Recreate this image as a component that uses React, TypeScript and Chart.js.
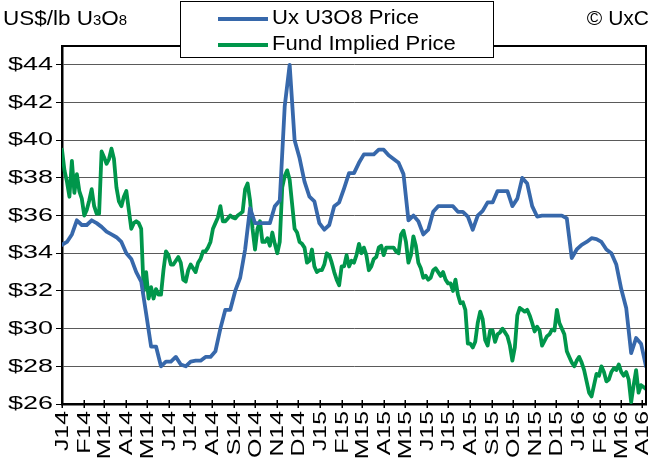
import React, { useEffect, useRef } from 'react';
import { Chart, registerables } from 'chart.js';

Chart.register(...registerables);

// Month tick labels (Jan 2014 .. Apr 2016) and their day offsets from 1 Jan 2014
const monthLabels = ['J14','F14','M14','A14','M14','J14','J14','A14','S14','O14','N14','D14','J15','F15','M15','A15','M15','J15','J15','A15','S15','O15','N15','D15','J16','F16','M16','A16'];
const monthStartDays = [0,31,59,90,120,151,181,212,243,273,304,334,365,396,424,455,485,516,546,577,608,638,669,699,730,761,790,821];

// Ux U3O8 weekly spot price (US$/lb), one value per week from early Jan 2014
const uxStepDays = 7;
const uxPrice = [
  34.45,34.6,35.0,35.75,35.5,35.5,35.75,35.6,35.4,35.15,
  35.0,34.85,34.6,34.0,33.7,33.0,32.5,30.8,29.05,29.05,
  28.0,28.25,28.25,28.5,28.1,28.0,28.25,28.3,28.3,28.5,
  28.5,28.8,30.0,31.0,31.0,32.0,32.7,34.2,36.4,35.6,
  35.6,35.6,35.6,36.5,36.8,41.8,44.0,40.0,39.05,37.8,
  37.0,36.75,35.6,35.25,35.5,36.5,36.7,37.45,38.25,38.25,
  38.8,39.25,39.25,39.25,39.5,39.5,39.2,39.0,38.8,38.2,
  35.75,36.0,35.7,35.0,35.25,36.2,36.5,36.5,36.5,36.5,
  36.2,36.2,35.95,35.25,36.0,36.25,36.7,36.7,37.3,37.3,
  37.3,36.5,36.9,38.0,37.7,36.5,35.95,36.0,36.0,36.0,
  36.0,36.0,35.85,33.75,34.2,34.45,34.6,34.8,34.75,34.6,
  34.2,34.0,33.4,32.1,31.1,28.7,29.5,29.2,28.0
];

// Fund implied price (US$/lb), sampled twice a week
const fundStepDays = 3.5;
const fundPrice = [
  39.5,38.4,37.8,37.0,38.9,37.2,38.2,37.3,36.9,36.0,
  36.3,36.8,37.4,36.5,36.1,36.1,39.4,39.1,38.75,39.0,
  39.55,39.0,37.5,36.75,36.5,37.0,37.3,36.3,35.3,35.6,
  35.7,35.6,35.3,32.0,33.0,31.6,32.2,31.6,32.1,31.8,
  31.8,33.1,34.1,33.9,33.4,33.4,33.6,33.8,33.5,32.6,
  32.5,33.1,33.4,33.2,33.0,33.5,33.7,34.1,34.1,34.3,
  34.6,35.3,35.6,35.9,36.5,35.7,35.7,35.85,36.0,35.9,
  35.85,36.0,36.1,36.2,37.4,37.7,36.8,35.3,34.2,35.3,
  35.7,34.6,34.6,34.8,34.4,35.1,34.5,34.0,34.6,37.5,
  38.1,38.4,37.9,36.6,35.3,35.1,34.6,34.5,34.3,33.5,
  33.6,34.2,33.3,33.0,33.1,33.1,33.4,34.0,33.9,33.5,
  33.0,32.6,32.3,33.3,33.3,33.9,33.3,33.6,33.5,33.9,
  34.5,34.0,34.3,33.9,33.1,33.3,33.7,33.8,34.3,34.4,
  33.9,34.3,34.3,34.3,34.3,34.1,34.0,35.0,35.2,34.6,
  33.5,33.9,34.9,34.4,33.5,33.2,32.7,32.8,32.6,32.7,
  33.1,33.2,33.0,32.8,33.0,32.6,32.4,32.4,32.0,32.6,
  31.8,31.35,31.4,31.0,29.2,29.2,29.0,29.3,30.3,30.9,
  30.5,29.4,29.1,29.9,29.9,29.3,29.7,29.8,30.0,29.8,
  29.6,29.1,28.3,29.0,30.7,31.1,31.0,30.9,31.0,30.7,
  30.3,29.85,30.1,29.9,29.1,29.35,29.6,29.7,29.95,29.9,
  31.0,30.3,30.0,29.7,28.8,28.5,28.2,28.0,28.3,28.5,
  28.2,27.8,27.2,26.6,26.4,27.0,27.6,27.5,28.0,27.7,
  27.2,27.3,27.7,27.9,27.8,28.1,27.7,27.5,27.7,27.3,
  26.1,27.0,27.8,26.6,27.0,26.9,26.8
];

const seriesNames = ['Ux U3O8 Price', 'Fund Implied Price'];
const seriesColors = ['#3768AB', '#00964B'];
const yMin = 26;
const yMax = 45;
const yStep = 2;
const xMaxDay = 826;

const FONT = '"Liberation Sans", Arial, sans-serif';

const decorPlugin = {
  id: 'decor',
  afterDraw(chart: any) {
    const { ctx, chartArea } = chart;
    const xs = chart.scales.x;
    const ys = chart.scales.y;
    ctx.save();
    // frame top/right
    ctx.strokeStyle = '#000';
    ctx.lineWidth = 2;
    ctx.beginPath();
    ctx.moveTo(chartArea.left, chartArea.top);
    ctx.lineTo(chartArea.right, chartArea.top);
    ctx.lineTo(chartArea.right, chartArea.bottom);
    ctx.stroke();
    // crossing x tick marks
    ctx.lineWidth = 1.5;
    monthStartDays.forEach((d) => {
      const px = Math.round(xs.getPixelForValue(d)) + 0.25;
      ctx.beginPath();
      ctx.moveTo(px, chartArea.bottom - 4);
      ctx.lineTo(px, chartArea.bottom + 4);
      ctx.stroke();
    });
    // y tick labels (wide lettering)
    ctx.fillStyle = '#000';
    ctx.font = `19px ${FONT}`;
    ctx.textAlign = 'right';
    ctx.textBaseline = 'middle';
    ys.ticks.forEach((t: any) => {
      const py = ys.getPixelForValue(t.value);
      ctx.save();
      ctx.translate(53, py);
      ctx.scale(1.42, 1);
      ctx.fillText('$' + t.value, 0, 0);
      ctx.restore();
    });
    // x tick labels, rotated, reading upward
    ctx.font = `18px ${FONT}`;
    monthLabels.forEach((lab, i) => {
      const px = xs.getPixelForValue(monthStartDays[i]);
      ctx.save();
      ctx.translate(px + 1, chartArea.bottom + 7);
      ctx.rotate(-Math.PI / 2);
      ctx.scale(1.38, 1);
      ctx.textAlign = 'right';
      ctx.textBaseline = 'middle';
      ctx.fillText(lab, 0, 0);
      ctx.restore();
    });
    // legend box
    const lx = 180, ly = 1, lw = 313, lh = 56;
    ctx.fillStyle = '#fff';
    ctx.fillRect(lx, ly, lw, lh);
    ctx.lineWidth = 1;
    ctx.strokeStyle = '#000';
    ctx.strokeRect(lx + 0.5, ly + 0.5, lw, lh);
    const rows = [19, 45];
    seriesNames.forEach((name, i) => {
      ctx.strokeStyle = seriesColors[i];
      ctx.lineWidth = 4;
      ctx.beginPath();
      ctx.moveTo(218, rows[i]);
      ctx.lineTo(268, rows[i]);
      ctx.stroke();
      ctx.fillStyle = '#000';
      ctx.font = `21px ${FONT}`;
      ctx.textBaseline = 'middle';
      ctx.textAlign = 'left';
      ctx.save();
      ctx.translate(272, rows[i] - 1);
      ctx.scale(1.05, 1);
      ctx.fillText(name, 0, 0);
      ctx.restore();
    });
    // unit label with small digits
    ctx.fillStyle = '#000';
    ctx.textBaseline = 'alphabetic';
    ctx.textAlign = 'left';
    let x = 3;
    const base = 25;
    const parts: [string, number][] = [['US$/lb U', 21], ['3', 14], ['O', 21], ['8', 14]];
    parts.forEach(([t, s]) => {
      ctx.font = `${s}px ${FONT}`;
      ctx.save();
      ctx.translate(x, base);
      ctx.scale(1.07, 1);
      ctx.fillText(t, 0, 0);
      ctx.restore();
      x += ctx.measureText(t).width * 1.07;
    });
    ctx.font = `21px ${FONT}`;
    ctx.textAlign = 'right';
    ctx.fillText('\u00A9 UxC', 649, base);
    ctx.restore();
  },
};

export default function App() {
  const ref = useRef<HTMLCanvasElement | null>(null);
  useEffect(() => {
    if (!ref.current) return;
    const chart = new Chart(ref.current, {
      type: 'line',
      data: {
        datasets: [
          {
            label: seriesNames[0],
            data: uxPrice.map((v, i) => ({ x: i * uxStepDays, y: v })),
            borderColor: seriesColors[0],
            backgroundColor: seriesColors[0],
            borderWidth: 3.8,
            pointRadius: 0,
            tension: 0,
            borderJoinStyle: 'round',
            borderCapStyle: 'round',
          },
          {
            label: seriesNames[1],
            data: fundPrice.map((v, i) => ({ x: i * fundStepDays, y: v })),
            borderColor: seriesColors[1],
            backgroundColor: seriesColors[1],
            borderWidth: 3.8,
            pointRadius: 0,
            tension: 0,
            borderJoinStyle: 'round',
            borderCapStyle: 'round',
          },
        ],
      },
      options: {
        animation: false,
        responsive: false,
        devicePixelRatio: 1,
        layout: { padding: { top: 46, right: 4, left: 0, bottom: 0 } },
        plugins: { legend: { display: false }, tooltip: { enabled: false }, title: { display: false } },
        scales: {
          x: {
            type: 'linear',
            min: 0,
            max: xMaxDay,
            afterBuildTicks: (scale: any) => {
              scale.ticks = monthStartDays.map((d) => ({ value: d }));
            },
            afterFit: (scale: any) => {
              scale.height = 57;
            },
            ticks: { display: false, autoSkip: false },
            grid: { display: false, drawTicks: false },
            border: { display: true, color: '#000', width: 2.5 },
          },
          y: {
            type: 'linear',
            min: yMin,
            max: yMax,
            afterFit: (scale: any) => {
              scale.width = 62;
            },
            ticks: { display: false, stepSize: yStep, includeBounds: false },
            grid: { color: '#5a5a5a', lineWidth: 1, tickLength: 6, tickColor: '#000', drawTicks: true },
            border: { display: true, color: '#000', width: 2.5 },
          },
        },
      },
      plugins: [decorPlugin],
    });
    return () => chart.destroy();
  }, []);
  return (
    <div style={{ position: 'absolute', left: 0, top: 0, width: 650, height: 461, background: '#fff' }}>
      <canvas ref={ref} width={650} height={461} />
    </div>
  );
}
